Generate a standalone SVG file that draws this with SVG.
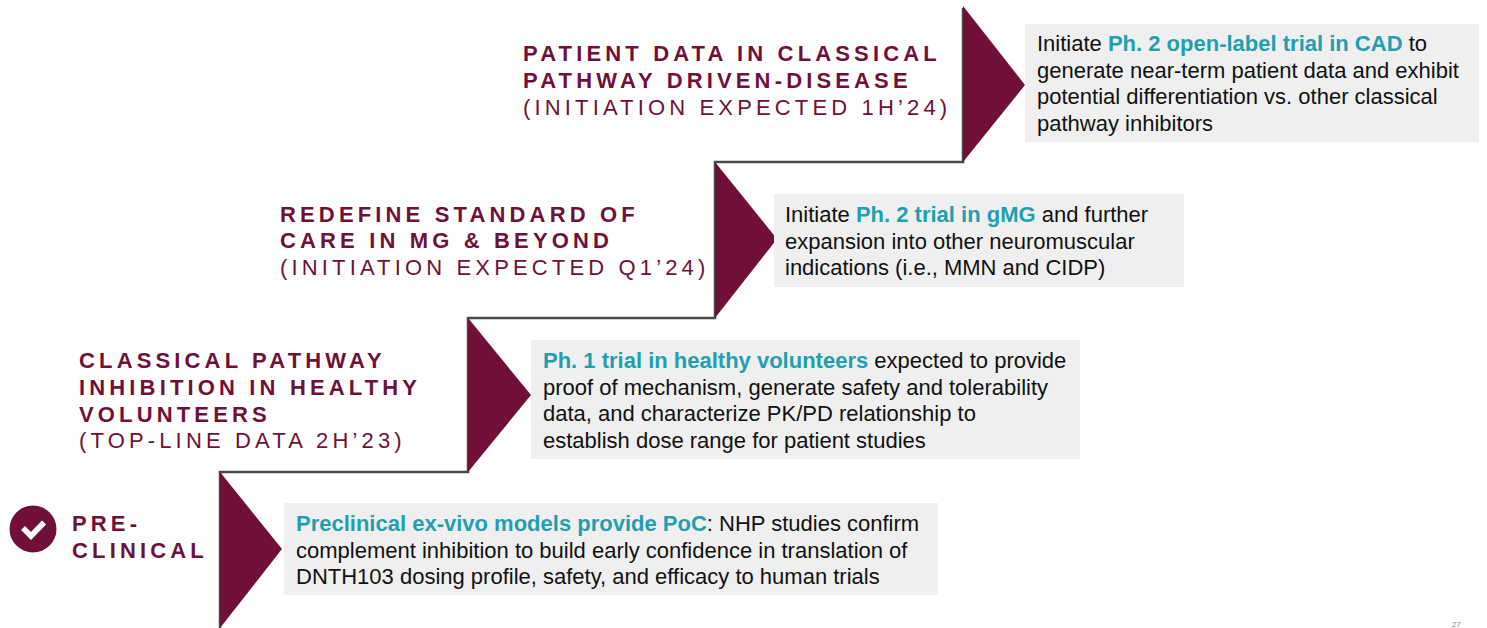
<svg xmlns="http://www.w3.org/2000/svg" width="1487" height="628" viewBox="0 0 1487 628">
<style>
.box{fill:#efefef}
.tri{fill:#701039}
.line{fill:none;stroke:#4a4a4a;stroke-width:2.5}
text{font-family:"Liberation Sans",Arial,sans-serif}
.b{font-size:22px;fill:#111}
.t{font-weight:700;fill:#1f9fb0}
.h{font-size:22px;font-weight:700;fill:#701039;letter-spacing:4.15px}
.s{font-size:22px;fill:#701039;letter-spacing:4.15px}
</style>
<rect width="1487" height="628" fill="#fff"/>
<g id="connectors">
<path class="line" d="M220 628V472H468V318H715V162H963V8"/>
</g>
<g id="step-preclinical">
<circle class="tri" cx="33" cy="529" r="23.500"/>
<path d="M23 528l8 8L44 522.500" fill="none" stroke="#fff" stroke-width="5.500"/>
<text class="h" x="72" y="531">PRE-</text>
<text class="h" x="72" y="558">CLINICAL</text>
<polygon class="tri" points="220,472 282,549 220,628"/>
<rect class="box" x="284" y="503" width="654" height="92"/>
<text class="b" x="296" y="531"><tspan class="t">Preclinical ex-vivo models provide PoC</tspan>: NHP studies confirm</text>
<text class="b" x="296" y="558">complement inhibition to build early confidence in translation of</text>
<text class="b" x="296" y="584">DNTH103 dosing profile, safety, and efficacy to human trials</text>
</g>
<g id="step-phase1">
<text class="h" x="79" y="368">CLASSICAL PATHWAY</text>
<text class="h" x="79" y="395">INHIBITION IN HEALTHY</text>
<text class="h" x="79" y="422">VOLUNTEERS</text>
<text class="s" x="79" y="448">(TOP-LINE DATA 2H’23)</text>
<polygon class="tri" points="468,318 531,395 468,472"/>
<rect class="box" x="531" y="340" width="549" height="119"/>
<text class="b" x="543" y="368"><tspan class="t">Ph. 1 trial in healthy volunteers</tspan> expected to provide</text>
<text class="b" x="543" y="395">proof of mechanism, generate safety and tolerability</text>
<text class="b" x="543" y="421">data, and characterize PK/PD relationship to</text>
<text class="b" x="543" y="448">establish dose range for patient studies</text>
</g>
<g id="step-gmg">
<text class="h" x="280" y="222">REDEFINE STANDARD OF</text>
<text class="h" x="280" y="248">CARE IN MG &amp; BEYOND</text>
<text class="s" x="280" y="275">(INITIATION EXPECTED Q1’24)</text>
<polygon class="tri" points="715,162 777,239 715,318"/>
<rect class="box" x="774" y="194" width="410" height="93"/>
<text class="b" x="785" y="222">Initiate <tspan class="t">Ph. 2 trial in gMG</tspan> and further</text>
<text class="b" x="785" y="249">expansion into other neuromuscular</text>
<text class="b" x="785" y="275">indications (i.e., MMN and CIDP)</text>
</g>
<g id="step-cad">
<text class="h" x="523" y="61">PATIENT DATA IN CLASSICAL</text>
<text class="h" x="523" y="88">PATHWAY DRIVEN-DISEASE</text>
<text class="s" x="523" y="115">(INITIATION EXPECTED 1H’24)</text>
<polygon class="tri" points="963,6 1025,85 963,162"/>
<rect class="box" x="1025" y="24" width="454" height="118"/>
<text class="b" x="1037" y="51">Initiate <tspan class="t">Ph. 2 open-label trial in CAD</tspan> to</text>
<text class="b" x="1037" y="78">generate near-term patient data and exhibit</text>
<text class="b" x="1037" y="104">potential differentiation vs. other classical</text>
<text class="b" x="1037" y="131">pathway inhibitors</text>
</g>
<text x="1452" y="626.500" font-size="8" fill="#8a8a8a">27</text>
</svg>
